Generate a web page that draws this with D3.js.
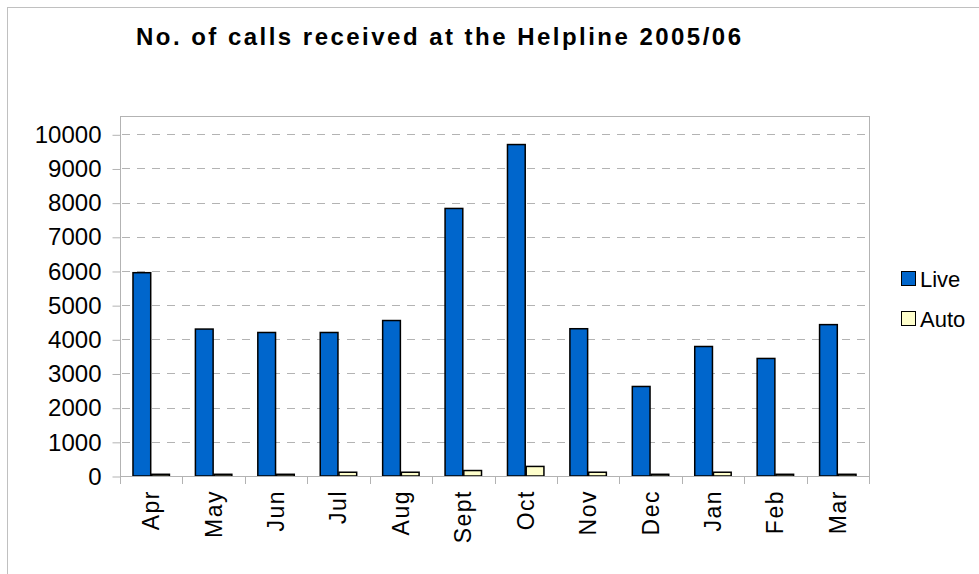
<!DOCTYPE html>
<html><head><meta charset="utf-8">
<script src="https://cdn.jsdelivr.net/npm/d3@7"></script>
<style>
body{margin:0;background:#fff;}
svg{display:block;font-family:"Liberation Sans",Arial,sans-serif;}
</style></head>
<body><svg id="c" width="979" height="574"></svg>
<script>
const months = ["Apr","May","Jun","Jul","Aug","Sept","Oct","Nov","Dec","Jan","Feb","Mar"];
const live = [5950,4300,4200,4200,4550,7830,9700,4310,2620,3790,3440,4430];
const auto = [50,50,50,110,110,160,280,110,50,110,50,50];
const seriesNames = ["Live","Auto"];
const seriesColors = ["#0066cc","#ffffcc"];
const yTicks = [0,1000,2000,3000,4000,5000,6000,7000,8000,9000,10000];
const title = "No. of calls received at the Helpline 2005/06";

const svg = d3.select("#c");
const L=120, R=869, T=116, B=476;

// outer border
svg.append("rect").attr("x",7.5).attr("y",7.5).attr("width",1000).attr("height",600)
  .attr("fill","none").attr("stroke","#c0c0c0").attr("stroke-width",1);

// title
svg.append("text").attr("x",136).attr("y",45).attr("font-size",24).attr("font-weight","bold")
  .attr("textLength",605).attr("lengthAdjust","spacing").attr("fill","#000").text(title);

const y = d3.scaleLinear().domain([0,10000]).range([B,134.3]);
const x = d3.scaleBand().domain(months).range([L,R]).paddingInner(0.4).paddingOuter(0.2);
const xs = d3.scaleBand().domain(seriesNames).range([0,x.bandwidth()]).padding(0);

// plot frame
svg.append("rect").attr("x",L+0.5).attr("y",T+0.5).attr("width",R-L).attr("height",B-T)
  .attr("fill","#fff").attr("stroke","#b3b3b3").attr("stroke-width",1);

// gridlines
const g = svg.append("g");
g.selectAll("line.grid").data(yTicks.filter(d=>d>0)).join("line")
  .attr("x1",L+1).attr("x2",R).attr("y1",d=>Math.round(y(d))+0.5).attr("y2",d=>Math.round(y(d))+0.5)
  .attr("stroke","#b3b3b3").attr("stroke-dasharray","8,7").attr("stroke-dashoffset",-1);

// y axis ticks and labels
const yAxis = d3.axisLeft(y).tickValues(yTicks).tickSize(8).tickPadding(11).tickFormat(d3.format("d"));
const ya = svg.append("g").attr("transform",`translate(${L+0.5},0.5)`).call(yAxis);
ya.select(".domain").remove();
ya.selectAll(".tick line").attr("stroke","#b3b3b3");
ya.selectAll(".tick text").attr("font-size",24).attr("font-family","Liberation Sans, Arial, sans-serif")
  .attr("fill","#000");

// bars
const data = months.map((m,i)=>({m, vals:[live[i],auto[i]]}));
const groups = svg.append("g").selectAll("g").data(data).join("g")
  .attr("transform",d=>`translate(${x(d.m)},0)`);
groups.selectAll("rect").data(d=>d.vals.map((v,k)=>({v,k}))).join("rect")
  .attr("x",d=>xs(seriesNames[d.k])+0.5)
  .attr("y",d=>y(d.v))
  .attr("width",xs.bandwidth()-1)
  .attr("height",d=>B-y(d.v))
  .attr("fill",d=>seriesColors[d.k]).attr("stroke","#000").attr("stroke-width",1.5);

// x axis line and ticks at category boundaries
svg.append("line").attr("x1",L).attr("x2",R+1).attr("y1",B+0.5).attr("y2",B+0.5)
  .attr("stroke","#b3b3b3");
const step = x.step();
const bounds = d3.range(months.length+1).map(i=>L+i*step);
svg.append("g").selectAll("line").data(bounds).join("line")
  .attr("x1",d=>Math.round(d)+0.5).attr("x2",d=>Math.round(d)+0.5).attr("y1",B).attr("y2",B+8)
  .attr("stroke","#b3b3b3");

// x labels rotated
svg.append("g").selectAll("text").data(months).join("text")
  .attr("transform",d=>`translate(${x(d)+x.bandwidth()/2+8},490) rotate(-90)`)
  .attr("text-anchor","end").attr("font-size",23).attr("letter-spacing","1.5px")
  .attr("fill","#000").text(d=>d);

// legend
const lg = svg.append("g");
seriesNames.forEach((s,i)=>{
  const cy = 278.5 + i*40;
  lg.append("rect").attr("x",901.5).attr("y",cy-7).attr("width",14).attr("height",14)
    .attr("fill",seriesColors[i]).attr("stroke","#000").attr("stroke-width",1);
  lg.append("text").attr("x",920).attr("y",cy+8).attr("font-size",22).attr("fill","#000").text(s);
});
</script></body></html>
